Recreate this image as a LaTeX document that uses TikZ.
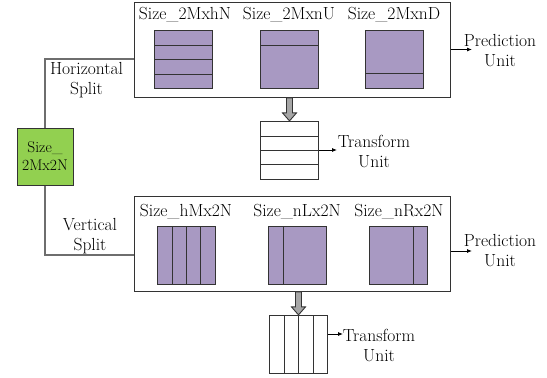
\documentclass[tikz,border=0pt]{standalone}
\usetikzlibrary{arrows.meta,calc}
\definecolor{pu}{HTML}{A899C2}
\definecolor{gr}{HTML}{92D050}
\definecolor{dk}{HTML}{333333}
\definecolor{cn}{HTML}{6E6E6E}
\begin{document}
\begin{tikzpicture}[x=1pt,y=-1pt,
  font=\rmfamily\fontsize{17.5}{20}\selectfont,
  frame/.style={draw=dk, line width=0.9pt, minimum width=316pt, minimum height=95pt, anchor=north west, inner sep=0pt},
  pbox/.style={draw=dk, fill=pu, line width=1pt, minimum width=58pt, minimum height=58pt, anchor=north west, inner sep=0pt},
  tbox/.style={draw=dk, fill=white, line width=1pt, minimum width=58pt, minimum height=58pt, anchor=north west, inner sep=0pt},
  inner/.style={draw=dk, line width=1pt},
  conn/.style={draw=cn, line width=1.4pt},
  arr/.style={draw=black, line width=0.8pt, -{Latex[length=5pt,width=4pt]}},
  garrow/.style={draw=dk, fill=black!35, line width=0.9pt, line join=miter},
  lbl/.style={inner sep=0pt, align=center},
]
\useasboundingbox (0,0) rectangle (547,378);

% ---------- top (horizontal) ----------
\node[frame] (ptop) at (134,2) {};
\node[pbox] (a1) at (154,30) {};
\node[pbox] (a2) at (260,30) {};
\node[pbox] (a3) at (365,30) {};
\draw[inner] ($(a1.north west)+(0,15)$) -- ($(a1.north east)+(0,15)$);
\draw[inner] ($(a1.north west)+(0,29)$) -- ($(a1.north east)+(0,29)$);
\draw[inner] ($(a1.north west)+(0,44)$) -- ($(a1.north east)+(0,44)$);
\draw[inner] ($(a2.north west)+(0,15)$) -- ($(a2.north east)+(0,15)$);
\draw[inner] ($(a3.north west)+(0,43)$) -- ($(a3.north east)+(0,43)$);
\node[lbl] (la1) at (185,15) {Size\_2MxhN};
\node[lbl] (la2) at (289,15) {Size\_2MxnU};
\node[lbl] (la3) at (394,15) {Size\_2MxnD};

\node[lbl] (pu1) at (500,51) {Prediction\\Unit};
\coordinate (pu1e) at (472,49.5);
\draw[arr] (ptop.east |- pu1e) -- (pu1e);

\node[tbox] (ttop) at (260,121) {};
\draw[inner] ($(ttop.north west)+(0,15)$) -- ($(ttop.north east)+(0,15)$);
\draw[inner] ($(ttop.north west)+(0,29)$) -- ($(ttop.north east)+(0,29)$);
\draw[inner] ($(ttop.north west)+(0,43)$) -- ($(ttop.north east)+(0,43)$);
\coordinate (d1) at (ttop.north |- ptop.south);
\draw[garrow, shift={(d1)}] (-3,0) -- (-3,15) -- (-7,15) -- (0,23) -- (7,15) -- (3,15) -- (3,0) -- cycle;
\node[lbl] (tu1) at (374,151) {Transform\\Unit};
\coordinate (tu1e) at (337,150);
\draw[arr] (ttop.east |- tu1e) -- (tu1e);

% ---------- root ----------
\node[draw=dk, fill=gr, line width=1pt, minimum width=56pt, minimum height=57pt, inner sep=0pt,
      align=center, font=\rmfamily\fontsize{15.5}{18}\selectfont] (root) at (45,156.5) {Size\_\\2Mx2N};

\coordinate (hs) at ($(ptop.north west)+(0,57)$);
\draw[conn] (root.north) |- (hs);
\node[lbl] (hst) at (86.5,80) {Horizontal\\Split};

% ---------- bottom (vertical) ----------
\node[frame] (pbot) at (134,196) {};
\coordinate (vs) at ($(pbot.north west)+(0,59)$);
\draw[conn] (root.south) |- (vs);
\node[lbl] (vst) at (90,236) {Vertical\\Split};

\node[pbox] (b1) at (157,226) {};
\node[pbox] (b2) at (268,226) {};
\node[pbox] (b3) at (369,226) {};
\draw[inner] ($(b1.north west)+(15,0)$) -- ($(b1.south west)+(15,0)$);
\draw[inner] ($(b1.north west)+(29,0)$) -- ($(b1.south west)+(29,0)$);
\draw[inner] ($(b1.north west)+(43,0)$) -- ($(b1.south west)+(43,0)$);
\draw[inner] ($(b2.north west)+(15,0)$) -- ($(b2.south west)+(15,0)$);
\draw[inner] ($(b3.north west)+(44,0)$) -- ($(b3.south west)+(44,0)$);
\node[lbl] (lb1) at (186,212) {Size\_hMx2N};
\node[lbl] (lb2) at (297,212) {Size\_nLx2N};
\node[lbl] (lb3) at (399,212) {Size\_nRx2N};

\node[lbl] (pu2) at (500,251) {Prediction\\Unit};
\coordinate (pu2e) at (472,251);
\draw[arr] (pbot.east |- pu2e) -- (pu2e);

\node[tbox] (tbot) at (269,315) {};
\draw[inner] ($(tbot.north west)+(15,0)$) -- ($(tbot.south west)+(15,0)$);
\draw[inner] ($(tbot.north west)+(29,0)$) -- ($(tbot.south west)+(29,0)$);
\draw[inner] ($(tbot.north west)+(44,0)$) -- ($(tbot.south west)+(44,0)$);
\coordinate (d2) at (tbot.north |- pbot.south);
\draw[garrow, shift={(d2)}] (-3,0) -- (-3,15) -- (-7,15) -- (0,23) -- (7,15) -- (3,15) -- (3,0) -- cycle;
\node[lbl] (tu2) at (379,345) {Transform\\Unit};
\coordinate (tu2e) at (343,334);
\draw[arr] (tbot.east |- tu2e) -- (tu2e);
\end{tikzpicture}
\end{document}
